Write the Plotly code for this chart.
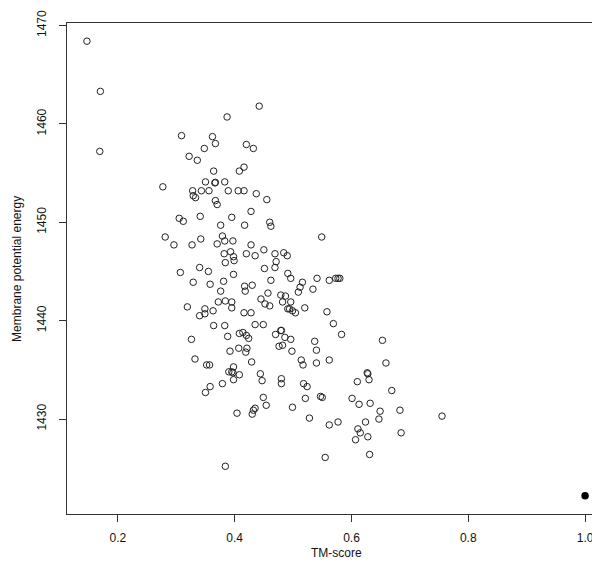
import plotly.graph_objects as go

# TM-score (x) and membrane potential energy (y) for the decoy models
tm_score = [
    0.147, 0.170, 0.169, 0.442, 0.387, 0.309, 0.362, 0.367, 0.348, 0.420,
    0.432, 0.322, 0.336, 0.364, 0.416, 0.408, 0.277, 0.350, 0.366, 0.367,
    0.383, 0.328, 0.329, 0.333, 0.343, 0.356, 0.389, 0.406, 0.416, 0.437,
    0.455, 0.367, 0.370, 0.428, 0.305, 0.312, 0.341, 0.395, 0.376, 0.417,
    0.460, 0.462, 0.281, 0.296, 0.327, 0.342, 0.379, 0.383, 0.397, 0.370,
    0.428, 0.549, 0.382, 0.393, 0.398, 0.399, 0.420, 0.435, 0.450, 0.469,
    0.484, 0.490, 0.471, 0.384,
    0.307, 0.340, 0.355, 0.451, 0.469, 0.329, 0.358, 0.381, 0.398, 0.376,
    0.417, 0.418, 0.430, 0.462, 0.491, 0.496, 0.516, 0.512, 0.509, 0.534,
    0.541, 0.372, 0.384, 0.395, 0.395, 0.457, 0.445, 0.452, 0.460, 0.479,
    0.487, 0.482, 0.496, 0.491, 0.494, 0.499, 0.504, 0.520, 0.319, 0.340,
    0.349, 0.349, 0.363, 0.416, 0.428, 0.364, 0.383, 0.435, 0.449, 0.326,
    0.388, 0.408, 0.414, 0.420, 0.424, 0.470, 0.479, 0.480, 0.486, 0.496,
    0.537, 0.392, 0.407, 0.421, 0.419, 0.476, 0.482, 0.498, 0.540, 0.332,
    0.352, 0.357, 0.429, 0.514, 0.517, 0.540, 0.390, 0.395, 0.398, 0.397,
    0.408, 0.398, 0.379, 0.444, 0.447, 0.480, 0.480, 0.518, 0.524, 0.358,
    0.350, 0.449, 0.454, 0.521, 0.547, 0.435, 0.432, 0.430, 0.404, 0.499,
    0.528, 0.384,
    0.562, 0.573, 0.577, 0.580, 0.558, 0.569, 0.583, 0.653, 0.562, 0.659,
    0.627, 0.628, 0.630, 0.610, 0.669, 0.601, 0.613, 0.632, 0.649, 0.683,
    0.755, 0.647, 0.562, 0.577, 0.624, 0.611, 0.615, 0.628, 0.607, 0.685,
    0.631, 0.555, 0.550,
]
energy = [
    1468.4, 1463.3, 1457.2, 1461.8, 1460.7, 1458.8, 1458.7, 1458.0, 1457.5, 1457.9,
    1457.5, 1456.7, 1456.3, 1455.2, 1455.6, 1455.2, 1453.6, 1454.1, 1454.0, 1454.05,
    1454.1, 1453.2, 1452.7, 1452.5, 1453.2, 1453.2, 1453.2, 1453.2, 1453.2, 1452.9,
    1452.3, 1452.2, 1451.8, 1451.1, 1450.4, 1450.1, 1450.6, 1450.5, 1449.7, 1449.7,
    1450.0, 1449.6, 1448.5, 1447.7, 1447.7, 1448.3, 1448.6, 1448.1, 1448.1, 1447.8,
    1447.7, 1448.5, 1446.8, 1447.0, 1446.5, 1446.1, 1446.8, 1446.6, 1447.2, 1446.8,
    1446.9, 1446.6, 1446.0, 1445.9,
    1444.9, 1445.4, 1445.0, 1445.3, 1445.4, 1443.9, 1443.7, 1444.0, 1444.7, 1443.0,
    1443.5, 1443.0, 1443.6, 1444.1, 1444.8, 1444.3, 1443.9, 1443.4, 1442.9, 1443.2,
    1444.3, 1441.9, 1442.0, 1441.9, 1441.3, 1442.8, 1442.2, 1441.7, 1441.5, 1442.6,
    1442.5, 1441.9, 1441.9, 1441.2, 1441.2, 1441.0, 1440.8, 1441.3, 1441.4, 1440.5,
    1441.2, 1440.7, 1441.0, 1440.8, 1440.8, 1439.5, 1439.5, 1439.6, 1439.6, 1438.1,
    1438.4, 1438.7, 1438.8, 1438.5, 1438.2, 1438.6, 1439.0, 1439.0, 1438.3, 1438.1,
    1437.9, 1436.9, 1437.2, 1437.2, 1436.8, 1437.4, 1437.5, 1436.9, 1437.0, 1436.1,
    1435.5, 1435.5, 1435.8, 1436.0, 1435.5, 1435.7, 1434.8, 1434.8, 1435.3, 1434.7,
    1434.5, 1434.0, 1433.6, 1434.6, 1433.9, 1434.1, 1433.6, 1433.6, 1433.3, 1433.3,
    1432.7, 1432.2, 1431.4, 1432.1, 1432.3, 1431.1, 1430.9, 1430.5, 1430.6, 1431.2,
    1430.1, 1425.2,
    1444.1, 1444.3, 1444.3, 1444.3, 1440.9, 1439.7, 1438.6, 1438.0, 1436.0, 1435.7,
    1434.7, 1434.6, 1434.0, 1433.8, 1432.9, 1432.1, 1431.5, 1431.6, 1430.8, 1430.9,
    1430.3, 1430.0, 1429.4, 1429.7, 1429.7, 1429.0, 1428.6, 1428.2, 1427.9, 1428.6,
    1426.4, 1426.1, 1432.2,
]

# native structure
native_tm = [1.0]
native_energy = [1422.2]

x_ticks = [0.2, 0.4, 0.6, 0.8, 1.0]
x_tick_labels = ["0.2", "0.4", "0.6", "0.8", "1.0"]
y_ticks = [1430, 1440, 1450, 1460, 1470]
y_tick_labels = ["1430", "1440", "1450", "1460", "1470"]

all_x = tm_score + native_tm
all_y = energy + native_energy
xr = max(all_x) - min(all_x)
yr = max(all_y) - min(all_y)
x_range = [min(all_x) - 0.04 * xr, max(all_x) + 0.04 * xr]
y_range = [min(all_y) - 0.04 * yr, max(all_y) + 0.04 * yr]

fig = go.Figure()
fig.add_trace(go.Scatter(
    x=tm_score, y=energy, mode="markers",
    marker=dict(symbol="circle-open", size=6.5, color="#222222", line=dict(width=1)),
    showlegend=False,
))
fig.add_trace(go.Scatter(
    x=native_tm, y=native_energy, mode="markers",
    marker=dict(symbol="circle", size=7.5, color="#000000"),
    showlegend=False,
))

axis_common = dict(
    showline=True, mirror=True, linecolor="#333333", linewidth=1,
    ticks="outside", ticklen=7, tickcolor="#333333", tickwidth=1,
    showgrid=False, zeroline=False, ticklabeloverflow="allow",
    tickfont=dict(family="Liberation Sans, Arial, sans-serif", size=12, color="#111111"),
)

fig.update_layout(
    width=600, height=564,
    margin=dict(l=59, r=2, t=11, b=58),
    paper_bgcolor="white", plot_bgcolor="white",
    font=dict(family="Liberation Sans, Arial, sans-serif", size=12, color="#111111"),
    xaxis=dict(range=x_range, tickvals=x_ticks, ticktext=x_tick_labels,
               ticklabelstandoff=6, **axis_common),
    yaxis=dict(range=y_range, tickvals=y_ticks, ticktext=y_tick_labels,
               tickangle=-90, ticklabelstandoff=8, **axis_common),
    annotations=[
        dict(text="TM-score", xref="paper", yref="paper", x=0.5, y=-0.08,
             xanchor="center", yanchor="middle", showarrow=False,
             font=dict(size=12)),
        dict(text="Membrane potential energy", xref="paper", yref="paper",
             x=-0.094, y=0.5, xanchor="center", yanchor="middle",
             textangle=-90, showarrow=False, font=dict(size=12)),
    ],
)

fig.write_html("out.html")
